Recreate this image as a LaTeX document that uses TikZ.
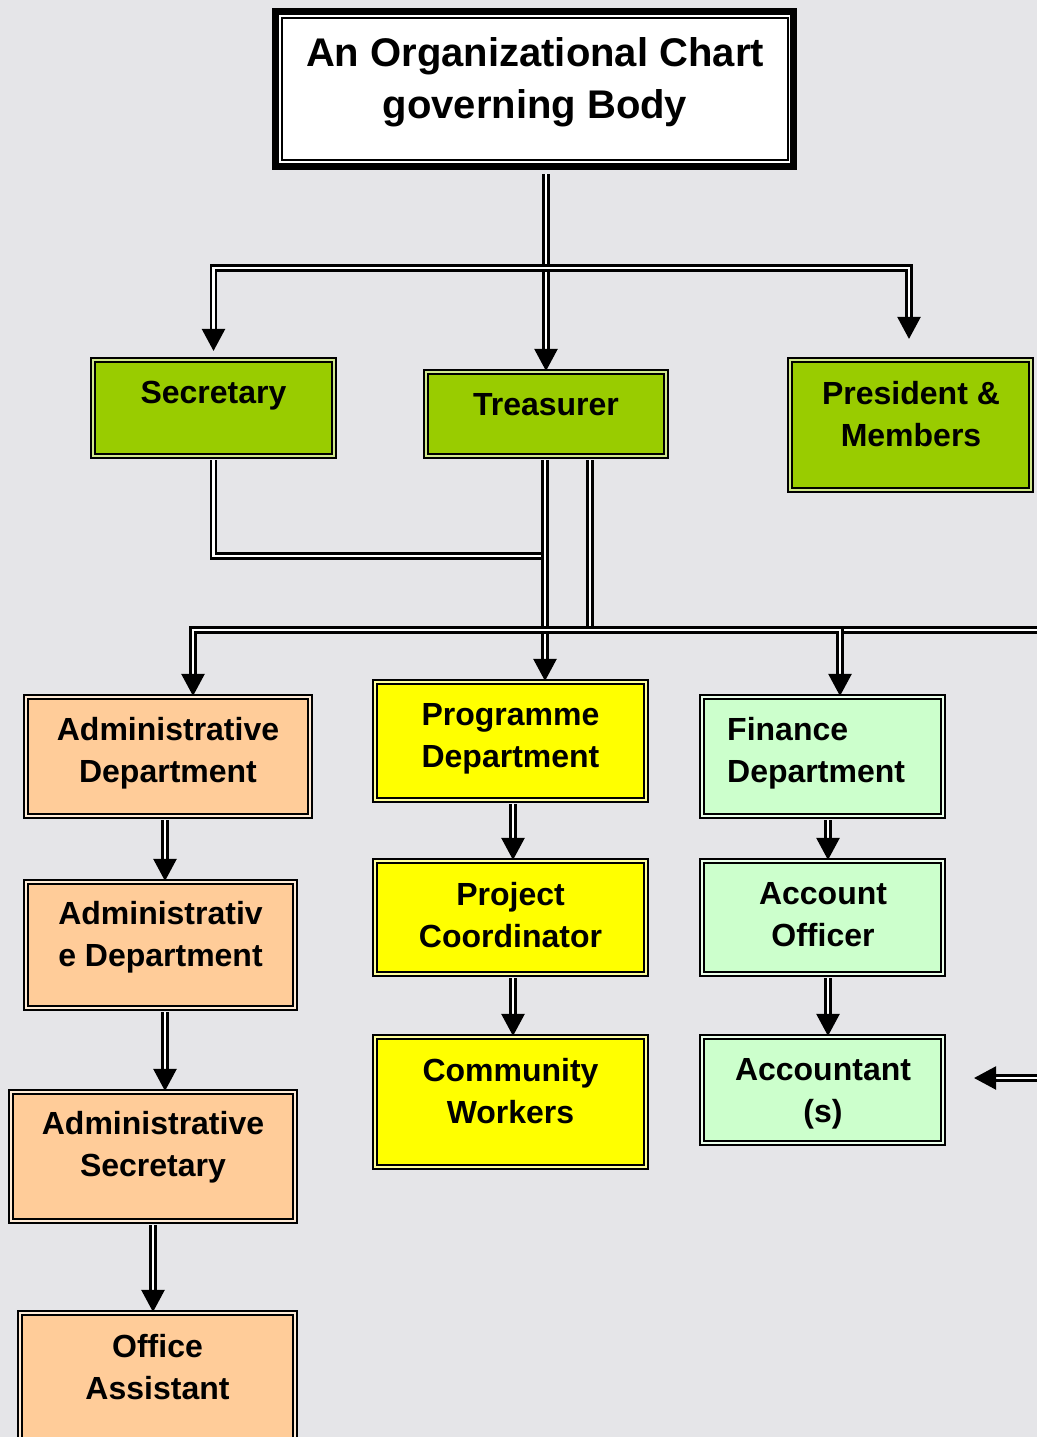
\documentclass[tikz,border=0pt]{standalone}
\usepackage{fontspec}
\setmainfont{Liberation Sans}
\usetikzlibrary{arrows.meta, positioning, fit}
\definecolor{marble}{RGB}{229,229,232}
\definecolor{leaf}{RGB}{153,204,0}
\definecolor{lemon}{RGB}{255,255,0}
\definecolor{peach}{RGB}{255,204,153}
\definecolor{mint}{RGB}{204,255,204}
\tikzstyle{box} = [draw, rectangle, inner sep=0pt, line width=2.1pt, double distance=2.6pt]
\tikzstyle{greenbox} = [box, fill=leaf, double=leaf!45!white]
\tikzstyle{yellowbox} = [box, fill=lemon, double=lemon!40!white]
\tikzstyle{peachbox} = [box, fill=peach, double=peach!40!white]
\tikzstyle{mintbox} = [box, fill=mint, double=mint!40!white]
\tikzstyle{txt} = [font=\fontsize{32}{42}\selectfont\bfseries, align=center, inner sep=0pt]
\tikzstyle{link} = [line width=2.3pt, double=white, double distance=2.8pt]
\tikzstyle{arrow} = [link, -{Triangle[width=23pt,length=22pt]}]

\begin{document}
\begin{tikzpicture}[x=1pt, y=-1pt]
  % Background
  \useasboundingbox (0,0) rectangle (1036,1437);
  \fill[marble] (-10,-10) rectangle (1046,1447);

  % Title box
  \node[draw, fill=white, line width=7pt, inner sep=0pt, fit={(275.5,11.5) (793.5,166.5)}] (title) {};
  \draw[line width=1.8pt] (282,18) rectangle (788,160);
  \node[txt, font=\fontsize{40}{52}\selectfont\bfseries] (titletxt) at (535,82) {An Organizational Chart\\governing Body};

  % Governing body
  \node[greenbox, fit={(93,360) (334,456)}] (sec) {};
  \node[greenbox, fit={(426,372) (666,456)}] (tre) {};
  \node[greenbox, fit={(790,360) (1031,490)}] (pres) {};
  \node[txt] (sectxt) at (213.5,396) {Secretary};
  \node[txt] (tretxt) at (546,405) {Treasurer};
  \node[txt] (prestxt) at (911,414) {President \&\\Members};

  % Administrative branch
  \node[peachbox, fit={(26,697) (310,816)}] (admdep) {};
  \node[peachbox, fit={(26,882) (295,1008)}] (admdepb) {};
  \node[peachbox, fit={(11,1092) (295,1221)}] (admsec) {};
  \node[peachbox, fit={(20,1313) (295,1460)}] (office) {};
  \node[txt] (admdeptxt) at (168,753.5) {Administrative\\Department};
  \node[txt] (admdepbtxt) at (160.5,937.5) {Administrativ\\e Department};
  \node[txt] (admsectxt) at (153,1147.5) {Administrative\\Secretary};
  \node[txt] (officetxt) at (157.5,1367) {Office\\Assistant};

  % Programme branch
  \node[yellowbox, fit={(375,682) (646,800)}] (prog) {};
  \node[yellowbox, fit={(375,861) (646,974)}] (proj) {};
  \node[yellowbox, fit={(375,1037) (646,1167)}] (comm) {};
  \node[txt] (progtxt) at (510.5,738.5) {Programme\\Department};
  \node[txt] (projtxt) at (510.5,915) {Project\\Coordinator};
  \node[txt] (commtxt) at (510.5,1091) {Community\\Workers};

  % Finance branch
  \node[mintbox, fit={(702,697) (943,816)}] (fin) {};
  \node[mintbox, fit={(702,861) (943,974)}] (acco) {};
  \node[mintbox, fit={(702,1037) (943,1143)}] (accnt) {};
  \node[txt, align=left, anchor=west] (fintxt) at (727,753.5) {Finance\\Department};
  \node[txt] (accotxt) at (823,915) {Account\\Officer};
  \node[txt] (accnttxt) at (823,1094) {Accountant\\(s)};

  % Junctions
  \coordinate (topbar) at (546,268);
  \coordinate (secbar) at (546,556);
  \coordinate (midbar) at (590,630);
  \coordinate (rightend) at (1046,630);
  \coordinate (accin) at (1046,1078);

  % Connectors from the title
  \draw[arrow, shorten <=4pt] (title.south -| tre.north) -- (tre.north);
  \draw[arrow] (topbar) -| ([yshift=8pt]sec.north);
  \draw[arrow] (topbar) -| ([xshift=-1.5pt,yshift=20pt]pres.north);

  % Connectors below secretary and treasurer
  \draw[link, shorten <=3pt] (sec.south) |- (secbar);
  \draw[arrow, shorten <=3pt] ([xshift=-1pt]tre.south) -- ([xshift=34.5pt]prog.north);
  \draw[link, shorten <=3pt] ([xshift=44pt]tre.south) |- (rightend);
  \draw[arrow] (midbar) -| ([xshift=25pt]admdep.north);
  \draw[arrow] (midbar) -| ([xshift=17.5pt]fin.north);

  % Chains
  \draw[arrow, shorten <=3pt] ([xshift=-3pt]admdep.south) -- ([xshift=4.5pt]admdepb.north);
  \draw[arrow, shorten <=3pt] ([xshift=4.5pt]admdepb.south) -- ([xshift=12pt]admsec.north);
  \draw[arrow, shorten <=3pt] (admsec.south) -- ([xshift=-4.5pt]office.north);
  \draw[arrow, shorten <=3pt] ([xshift=2.5pt]prog.south) -- ([xshift=2.5pt]proj.north);
  \draw[arrow, shorten <=3pt] ([xshift=2.5pt]proj.south) -- ([xshift=2.5pt]comm.north);
  \draw[arrow, shorten <=3pt] ([xshift=5.5pt]fin.south) -- ([xshift=5.5pt]acco.north);
  \draw[arrow, shorten <=3pt] ([xshift=5.5pt]acco.south) -- ([xshift=5.5pt]accnt.north);
  \draw[arrow] (accin) -- ([xshift=30pt,yshift=12pt]accnt.east);
\end{tikzpicture}
\end{document}
